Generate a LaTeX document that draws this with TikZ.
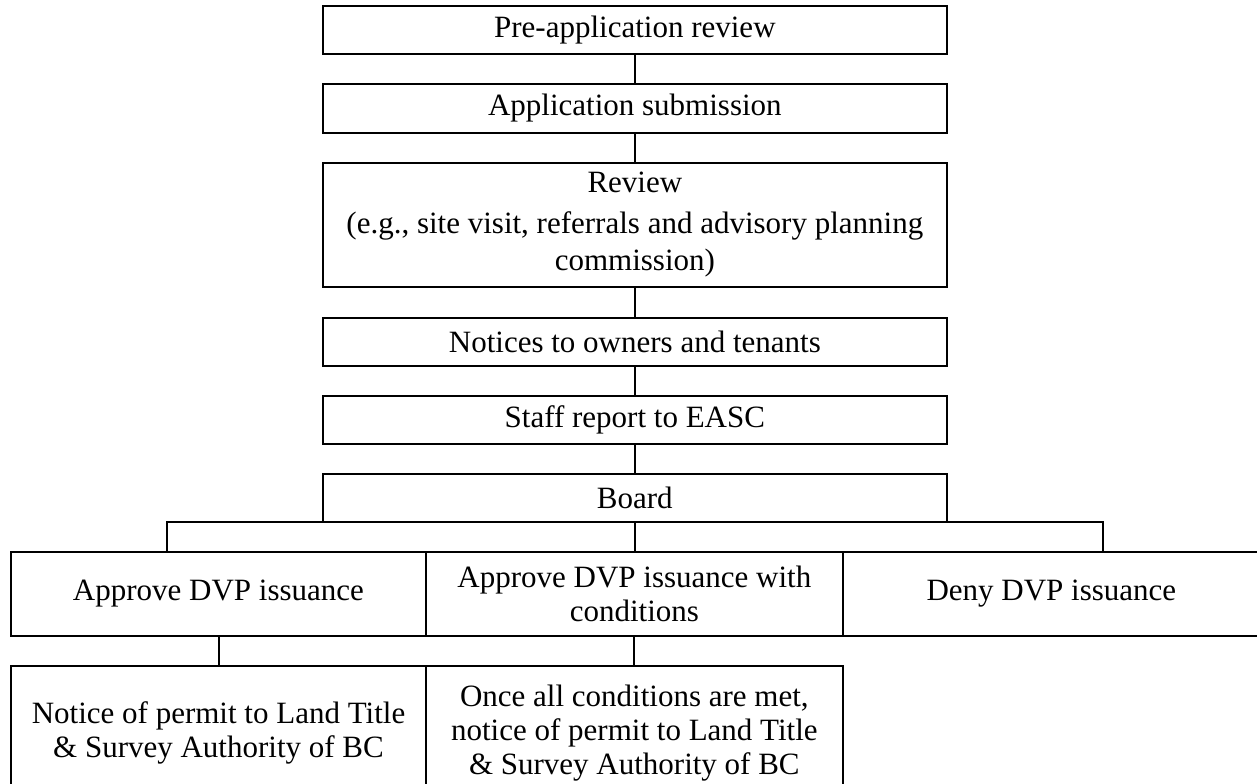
\documentclass[tikz,border=0pt]{standalone}
\usepackage{fontspec}
\setmainfont{Liberation Serif}
\begin{document}
\begin{tikzpicture}[x=0.5pt,y=-0.5pt,
  box/.style={draw, line width=1pt, inner sep=0pt, align=center,
    font=\fontsize{15.5pt}{16.8pt}\selectfont},
  mainbox/.style={box, minimum width=312.15pt},
  link/.style={line width=1pt}]
\useasboundingbox (0,0) rectangle (1257,783);
\node[mainbox, minimum height=23.85pt] (pre) at (634.85,29.85) {Pre-application review};
\node[mainbox, minimum height=24.2pt] (app) at (634.85,108.5) {Application submission};
\node[mainbox, minimum height=62.15pt, font=\fontsize{15.5pt}{18.5pt}\selectfont] (rev) at (634.85,224.85) {Review\\[2pt](e.g., site visit, referrals and advisory planning\\commission)};
\node[mainbox, minimum height=24pt] (not) at (634.85,341.7) {Notices to owners and tenants};
\node[mainbox, minimum height=24pt] (staff) at (634.85,419.7) {Staff report to EASC};
\node[mainbox, minimum height=23.85pt] (board) at (634.85,497.85) {Board};
\node[box, minimum width=207.5pt, minimum height=41.85pt] (approve) at (218.5,593.85) {Approve DVP issuance};
\node[box, minimum width=208.35pt, minimum height=41.85pt] (cond) at (634.35,593.85) {Approve DVP issuance with\\conditions};
\node[box, minimum width=208.65pt, minimum height=41.85pt] (deny) at (1051.35,593.85) {Deny DVP issuance};
\node[box, minimum width=207.5pt, minimum height=67pt] (notice) at (218.5,733) {Notice of permit to Land Title\\\& Survey Authority of BC};
\node[box, minimum width=208.35pt, minimum height=67pt] (once) at (634.35,733) {Once all conditions are met,\\notice of permit to Land Title\\\& Survey Authority of BC};
\draw[link] (pre) -- (app);
\draw[link] (app) -- (rev);
\draw[link] (rev) -- (not);
\draw[link] (not) -- (staff);
\draw[link] (staff) -- (board);
\coordinate (bl) at (167,521.7);
\coordinate (br) at (1103,521.7);
\draw[link] (bl |- approve.north) -- (bl) -- (br) -- (br |- deny.north);
\draw[link] (board.south) -- (board.south |- cond.north);
\draw[link] (approve.south) -- (notice.north);
\draw[link] (cond.south) -- (cond.south |- once.north);
\end{tikzpicture}
\end{document}
